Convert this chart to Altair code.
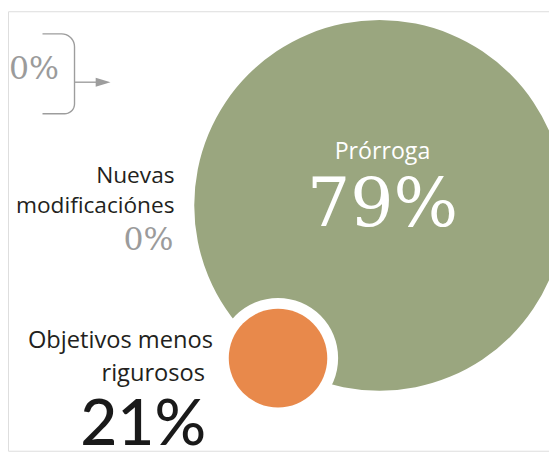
import math
import numpy as np
import pandas as pd
import altair as alt

# ---- data ----
categories = ["Prórroga", "Objetivos menos rigurosos", "Nuevas modificaciónes", "(otro)"]
values = [79, 21, 0, 0]
label_lines = [["Prórroga"], ["Objetivos menos", "rigurosos"], ["Nuevas", "modificaciónes"], []]

# ---- layout (pixel positions in the picture) ----
W, H, M = 557, 454, 8
bubble_pos = {"Prórroga": (385, 205, 188), "Objetivos menos rigurosos": (282, 360, 50)}
ring_r = 61
colors = {"Prórroga": "#9aa67f", "Objetivos menos rigurosos": "#e8894b"}

xs = alt.Scale(domain=[M, W], nice=False, zero=False)
ys = alt.Scale(domain=[M, H], nice=False, zero=False, reverse=True)
X = lambda f="x": alt.X(f"{f}:Q", scale=xs, axis=None)
Y = lambda f="y": alt.Y(f"{f}:Q", scale=ys, axis=None)

# bubbles (Vega circle symbol: radius = sqrt(size)/2)
rows = []
for c, v in zip(categories, values):
    if c in bubble_pos:
        cx, cy, r = bubble_pos[c]
        if c == "Objetivos menos rigurosos":
            rows.append({"x": cx, "y": cy, "s": (2 * ring_r) ** 2, "col": "#ffffff", "o": 1})
        rows.append({"x": cx, "y": cy, "s": (2 * r) ** 2, "col": colors[c], "o": 2 if v < 50 else 0})
bub = pd.DataFrame(rows).sort_values("o")
bubbles = alt.Chart(bub).mark_circle(opacity=1).encode(
    x=X(), y=Y(), size=alt.Size("s:Q", scale=None, legend=None),
    color=alt.Color("col:N", scale=None), order=alt.Order("o:Q"))

def text_layer(rows, **kw):
    return alt.Chart(pd.DataFrame(rows)).mark_text(baseline="alphabetic", **kw).encode(
        x=X(), y=Y(), text="t:N")

pct = lambda v: f"{v}%"

t_pror_lbl = text_layer([{"x": 388, "y": 158, "t": label_lines[0][0]}],
                        align="center", font="Open Sans", fontSize=23.5, color="#ffffff")
t_pror_val = text_layer([{"x": 388, "y": 226, "t": pct(values[0])}],
                        align="center", font="DejaVu Serif", fontSize=69, color="#ffffff")

t_obj_lbl = text_layer([{"x": 216, "y": 350, "t": label_lines[1][0]},
                        {"x": 208, "y": 383, "t": label_lines[1][1]}],
                       align="right", font="Open Sans", fontSize=24, color="#231f20")
t_obj_val = text_layer([{"x": 209, "y": 448, "t": pct(values[1])}],
                       align="right", font="Lato", fontSize=65, fontWeight=500, color="#1a1a1a")

t_nue_lbl = text_layer([{"x": 177, "y": 182, "t": label_lines[2][0]},
                        {"x": 177, "y": 213, "t": label_lines[2][1]}],
                       align="right", font="Open Sans", fontSize=23, color="#231f20")
t_nue_val = text_layer([{"x": 176, "y": 250, "t": pct(values[2])}],
                       align="right", font="DejaVu Serif", fontSize=32, color="#9b9b9b")

t_top_val = text_layer([{"x": 9, "y": 77, "t": pct(values[3])}],
                       align="left", font="DejaVu Serif", fontSize=32, color="#9b9b9b")

bx, btop, bbot, bleft = 75.5, 31, 112, 43
rt, rb = 13, 10
pts = [(bleft, btop)]
for a in np.linspace(90, 0, 10):
    pts.append((bx - rt + rt * math.cos(math.radians(a)), btop + rt - rt * math.sin(math.radians(a))))
for a in np.linspace(0, -90, 10):
    pts.append((bx - rb + rb * math.cos(math.radians(a)), bbot - rb - rb * math.sin(math.radians(a))))
pts.append((bleft, bbot))
br = pd.DataFrame([{"x": p[0], "y": p[1], "i": i} for i, p in enumerate(pts)])
bracket = alt.Chart(br).mark_line(color="#9d9d9d", strokeWidth=1.4).encode(
    x=X(), y=Y(), order="i:Q")

arrow_line = alt.Chart(pd.DataFrame([{"x": bx, "x2": 100, "y": 80}])).mark_rule(
    color="#9d9d9d", strokeWidth=1.4).encode(x=X(), x2="x2:Q", y=Y())
arrow_head = alt.Chart(pd.DataFrame([{"x": 104.5, "y": 80}])).mark_point(
    shape="M-1,-0.6L1,0L-1,0.6Z", filled=True, size=225, color="#9d9d9d", opacity=1,
    strokeWidth=0).encode(x=X(), y=Y())

chart = alt.layer(
    bubbles, t_pror_lbl, t_pror_val, t_obj_lbl, t_obj_val, t_nue_lbl, t_nue_val,
    t_top_val, bracket, arrow_line, arrow_head
).properties(
    width=W - M, height=H - M, padding=0, autosize=alt.AutoSizeParams(type="none")
).configure_view(stroke="transparent", strokeWidth=0).configure(background="#ffffff")

chart.save("out.html", embed_options={"renderer": "svg", "actions": False})
